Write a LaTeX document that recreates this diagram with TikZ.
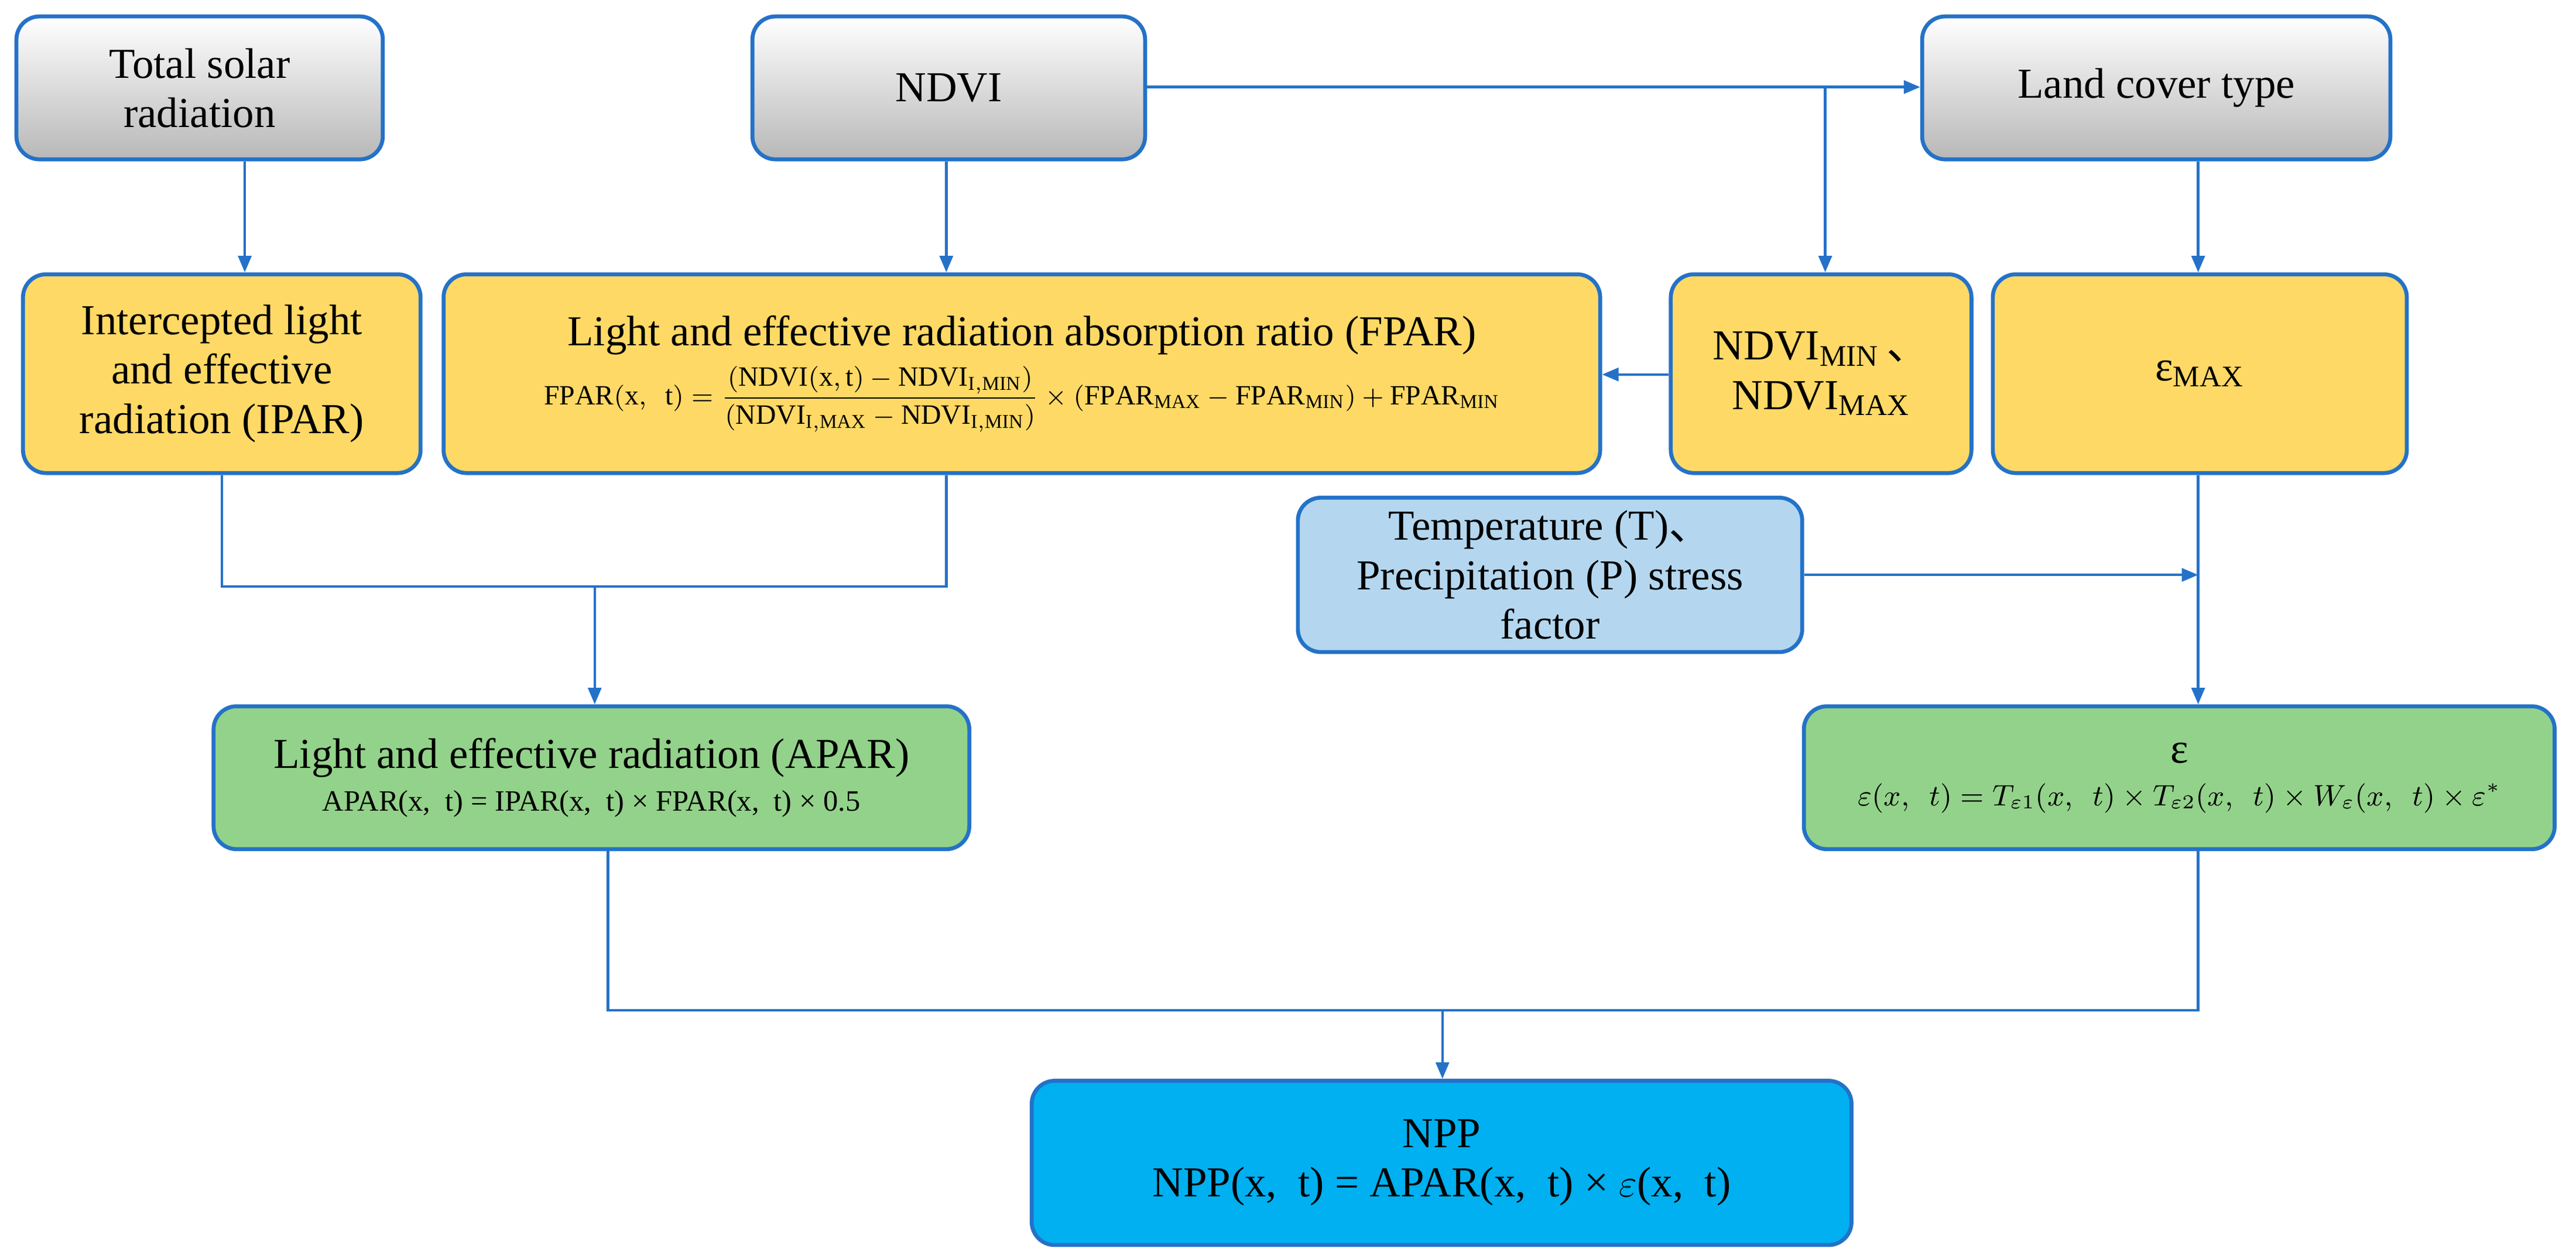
\documentclass[tikz,border=0pt]{standalone}
\usepackage{fontspec}
\usepackage{amsmath}
\setmainfont{Liberation Serif}
\newfontfamily\cjk{Noto Sans CJK SC}
\usetikzlibrary{arrows.meta}
\definecolor{ln}{HTML}{2472C8}
\definecolor{yel}{HTML}{FFD966}
\definecolor{grn}{HTML}{93D28A}
\definecolor{lblue}{HTML}{B4D7EF}
\definecolor{npp}{HTML}{00B0F0}
\tikzset{
 box/.style={draw=ln, line width=1.2pt, rounded corners=7pt, align=center, font=\fontsize{13}{15}\selectfont},
 grayb/.style={box, top color=white, bottom color=black!28},
 con/.style={draw=ln, line width=0.8pt},
 arr/.style={con, -{Triangle[length=5pt,width=4pt]}}
}
\newcommand{\bx}[6]{\node[#1, minimum width={(#4-#2)*0.5pt}, minimum height={(#5-#3)*0.5pt}, inner sep=1pt] (#6) at ({(#2+#4)/2*0.5pt},{-(#3+#5)/2*0.5pt})}
\begin{document}
\begin{tikzpicture}[x=0.5pt,y=-0.5pt]
\useasboundingbox (0,0) rectangle (1568,762);
\bx{grayb}{10}{10}{233}{97}{tsr} {Total solar\\radiation};
\bx{grayb}{458}{10}{697}{97}{ndvi} {NDVI};
\bx{grayb}{1170}{10}{1455}{97}{lct} {Land cover type};
\bx{box,fill=yel}{14}{167}{256}{288}{ipar} {Intercepted light\\and effective\\radiation (IPAR)};
\bx{box,fill=yel}{270}{167}{974}{288}{fpar} {Light and effective radiation absorption ratio (FPAR)\\[3pt]
 {\fontsize{8.5}{9}\selectfont $\mathrm{FPAR(x,\ \ t)}=\dfrac{\mathrm{(NDVI(x,t)}-\mathrm{NDVI_{I,MIN}}\mathrm{)}}{\mathrm{(NDVI_{I,MAX}}-\mathrm{NDVI_{I,MIN})}}\times\mathrm{(FPAR_{MAX}}-\mathrm{FPAR_{MIN})}+\mathrm{FPAR_{MIN}}$}};
\bx{box,fill=yel}{1017}{167}{1200}{288}{nmm} {NDVI$_{\text{MIN}}$\,{\cjk 、}\\NDVI$_{\text{MAX}}$};
\bx{box,fill=yel}{1213}{167}{1465}{288}{emax} {ε$_{\text{MAX}}$};
\bx{box,fill=lblue}{790}{303}{1097}{397}{tp} {Temperature (T){\cjk 、}\\Precipitation (P) stress\\factor};
\bx{box,fill=grn}{130}{430}{590}{517}{apar} {Light and effective radiation (APAR)\\[-2pt]
 {\fontsize{9}{10}\selectfont APAR(x,\ \ t) = IPAR(x,\ \ t) × FPAR(x,\ \ t) × 0.5}};
\bx{box,fill=grn}{1098}{430}{1555}{517}{eps} {ε\\[-2pt]
 {\fontsize{9}{10}\selectfont $\varepsilon(x,\ \ t)=T_{\varepsilon1}(x,\ \ t)\times T_{\varepsilon2}(x,\ \ t)\times W_{\varepsilon}(x,\ \ t)\times\varepsilon^{*}$}};
\bx{box,fill=npp}{628}{658}{1127}{758}{np} {NPP\\NPP(x,\ \ t) = APAR(x,\ \ t) × $\varepsilon$(x,\ \ t)};
% connectors
\draw[arr] (tsr.south -| 149,0) -- (ipar.north -| 149,0);
\draw[arr] (ndvi.south -| 576,0) -- (fpar.north -| 576,0);
\draw[arr] (ndvi.east |- 0,53) -- (lct.west |- 0,53);
\coordinate (b1) at (1111,53);
\draw[arr] (b1) -- (nmm.north -| b1);
\draw[arr] (lct.south -| 1338,0) -- (emax.north -| 1338,0);
\draw[arr] (nmm.west |- 0,228) -- (fpar.east |- 0,228);
\coordinate (j1) at (135,357); \coordinate (j2) at (576,357); \coordinate (j3) at (362,357);
\draw[con] (ipar.south -| j1) -- (j1) -- (j2) -- (fpar.south -| j2);
\draw[arr] (j3) -- (apar.north -| j3);
\draw[arr] (emax.south -| 1338,0) -- (eps.north -| 1338,0);
\draw[arr] (tp.east |- 0,350) -- (1338,350);
\coordinate (k1) at (370,615); \coordinate (k2) at (1338,615); \coordinate (k3) at (878,615);
\draw[con] (apar.south -| k1) -- (k1) -- (k2) -- (eps.south -| k2);
\draw[arr] (k3) -- (np.north -| k3);
\end{tikzpicture}
\end{document}
